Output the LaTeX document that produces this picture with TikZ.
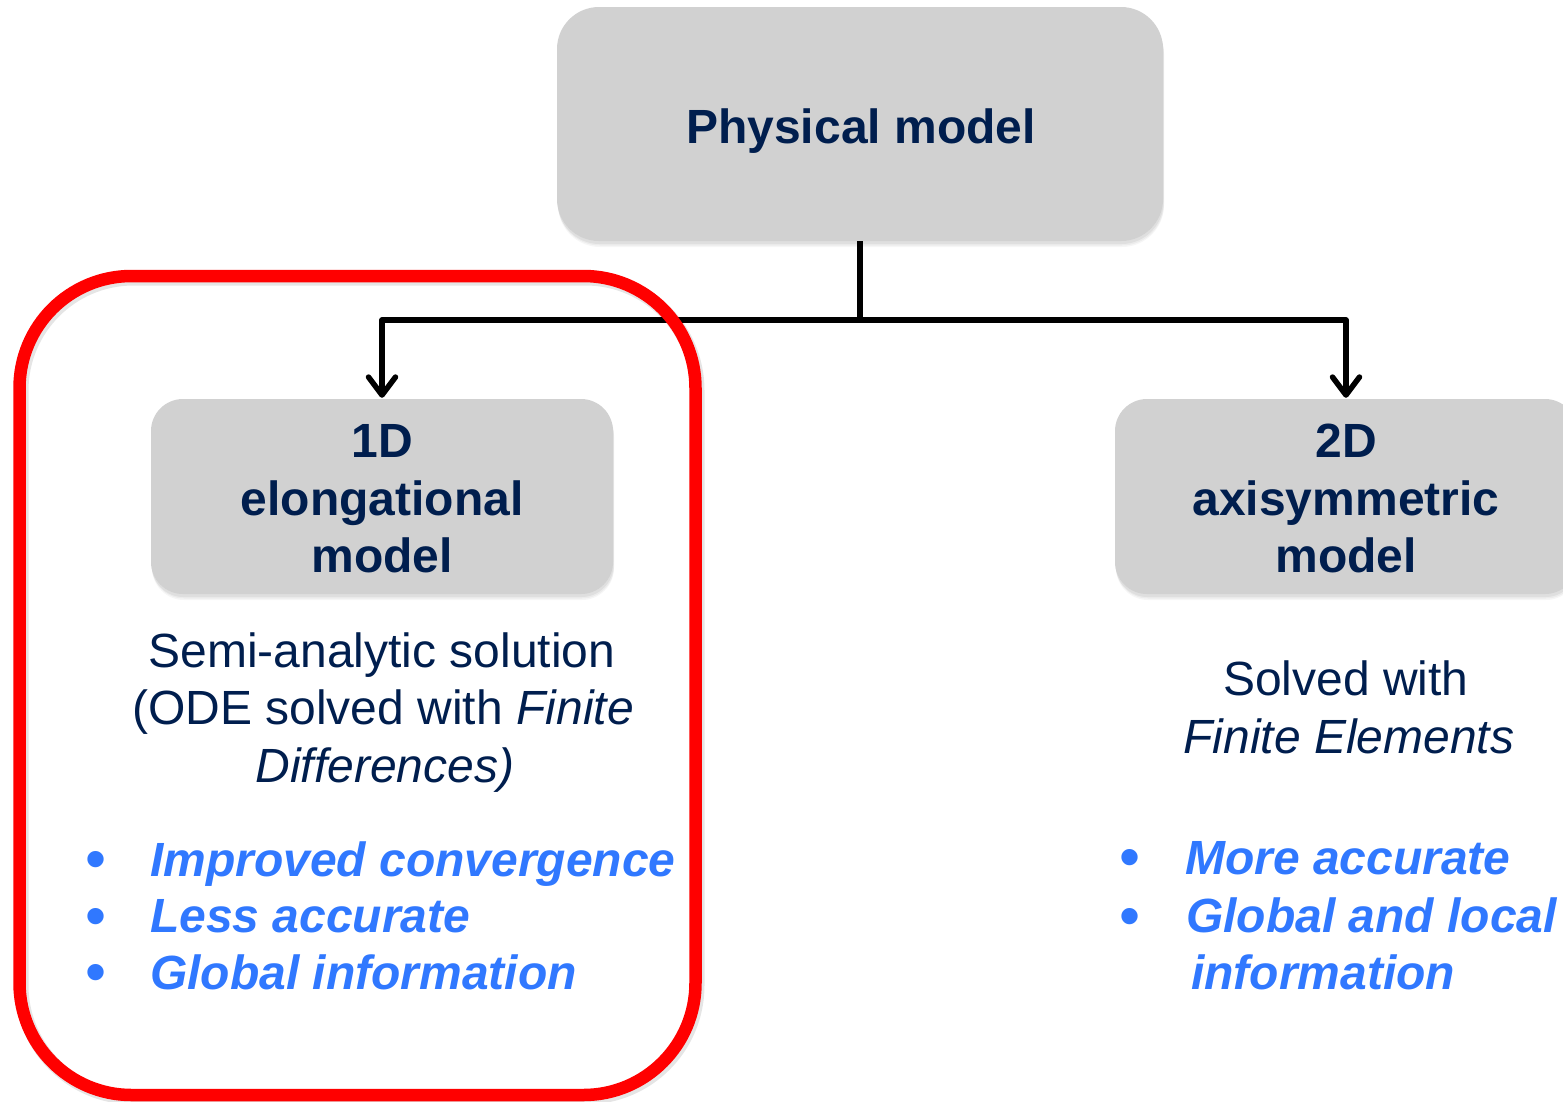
\documentclass[tikz,border=0pt]{standalone}
\usepackage{fontspec}
\setmainfont{Liberation Sans}
\usetikzlibrary{arrows.meta,shadows}

\definecolor{boxgray}{RGB}{209,209,209}
\definecolor{navy}{RGB}{0,30,78}
\definecolor{pointblue}{RGB}{48,120,255}
\definecolor{framered}{RGB}{255,0,0}

\begin{document}
\begin{tikzpicture}[x=1pt,y=-1pt,
  softshadow/.style={
    drop shadow={shadow xshift=1pt, shadow yshift=-6pt, opacity=0.07},
    drop shadow={shadow xshift=1pt, shadow yshift=-4.5pt, opacity=0.09},
    drop shadow={shadow xshift=0.5pt, shadow yshift=-3pt, opacity=0.12}},
  modelbox/.style={fill=boxgray, draw=none, inner sep=0pt, softshadow},
  heading/.style={font=\fontsize{48}{57.6}\selectfont\bfseries, text=navy,
    inner sep=0pt, anchor=base},
  plain/.style={font=\fontsize{48}{57.6}\selectfont, text=navy,
    inner sep=0pt, anchor=base},
  point/.style={font=\fontsize{48}{57.6}\selectfont\bfseries\itshape,
    text=pointblue, inner sep=0pt, anchor=base west},
  dot/.style={font=\fontsize{60}{60}\selectfont, text=pointblue,
    inner sep=0pt, anchor=base},
  link/.style={line width=5.5pt, draw=black, line join=round},
  tip/.style={-{Straight Barb[length=18pt,width=27pt,round]}}
]
\useasboundingbox (0,0) rectangle (1563,1101);

% model boxes
\node[modelbox, rounded corners=42pt, minimum width=606pt, minimum height=234pt]
  (phys) at (860,124) {};
\node[modelbox, rounded corners=32pt, minimum width=462pt, minimum height=195pt]
  (oned) at (382,496.5) {};
\node[modelbox, rounded corners=32pt, minimum width=462pt, minimum height=195pt]
  (twod) at (1346,496.5) {};

% box titles
\node[heading] (physT) at (861,143) {Physical model};
\node[heading] (onedA) at (382,457) {1D};
\node[heading] (onedB) at (382,515) {elongational};
\node[heading] (onedC) at (382,572) {model};
\node[heading] (twodA) at (1346,457) {2D};
\node[heading] (twodB) at (1346,515) {axisymmetric};
\node[heading] (twodC) at (1346,572) {model};

% tree connector
\coordinate (split) at (860,320);
\draw[link] (phys.south) -- (split);
\draw[link, tip] (split) -| ([yshift=1pt]oned.north);
\draw[link, tip] (split) -| ([yshift=1pt]twod.north);

% highlighted frame round the 1D branch, with a faint shadow under it
\draw[black, opacity=0.10, line width=14pt, rounded corners=112pt]
  (21.5,278.5) rectangle (697.5,1097.5);
\draw[framered, line width=12.5pt, rounded corners=112pt]
  (19.5,276) rectangle (695.5,1095);

% 1D solution method
\node[plain] (semiA) at (382,667) {Semi-analytic solution};
\node[plain] (semiB) at (383,724.5) {(ODE solved with \textit{Finite}};
\node[plain] (semiC) at (385,782) {\textit{Differences)}};

% 1D properties
\node[dot] (dA) at (96,879.5) {•};
\node[dot] (dB) at (96,936) {•};
\node[dot] (dC) at (96,992.5) {•};
\node[point] (pA) at (150,876) {Improved convergence};
\node[point] (pB) at (150,932.5) {Less accurate};
\node[point] (pC) at (150,989) {Global information};

% 2D solution method
\node[plain] (feA) at (1346,695) {Solved with};
\node[plain] (feB) at (1349,753) {\textit{Finite Elements}};

% 2D properties
\node[dot] (eA) at (1130,877.5) {•};
\node[dot] (eB) at (1130,936) {•};
\node[point] (qA) at (1185,874) {More accurate};
\node[point] (qB) at (1186,932.5) {Global and local};
\node[point] (qC) at (1191,989) {information};
\end{tikzpicture}
\end{document}
